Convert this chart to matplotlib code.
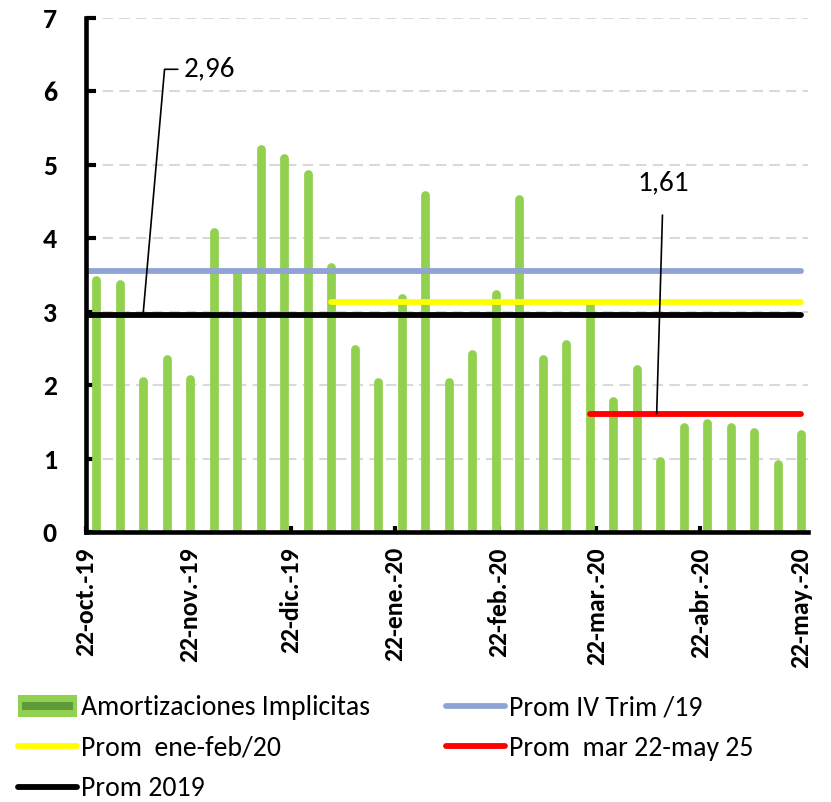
import numpy as np
import matplotlib
matplotlib.use("Agg")
import matplotlib.pyplot as plt
from matplotlib.patches import Patch, Rectangle
import datetime as dt

NARROW = ["Carlito", "Liberation Sans Narrow", "Lato", "DejaVu Sans"]

# ---- data: weekly implicit amortizations (Fridays) ----
start = dt.date(2019, 10, 25)
dates = [start + dt.timedelta(weeks=i) for i in range(31)]
amort = [3.43, 3.38, 2.06, 2.36, 2.08, 4.09, 3.52, 5.22, 5.09, 4.88,
         3.61, 2.49, 2.04, 3.18, 4.59, 2.04, 2.43, 3.24, 4.54, 2.36,
         2.56, 3.09, 1.79, 2.22, 0.97, 1.43, 1.49, 1.43, 1.36, 0.93, 1.34]

# reference averages: (label, value, start, end, colour)
prom_iv_trim = 3.56
prom_ene_feb = 3.13
prom_2019 = 2.96
prom_mar_may = 1.61
avg_lines = [
    ("Prom IV Trim /19", prom_iv_trim, dt.date(2019, 10, 22), dt.date(2020, 5, 22), "#8FA4D4"),
    ("Prom  ene-feb/20", prom_ene_feb, dt.date(2020, 1, 3), dt.date(2020, 5, 22), "#FFFF00"),
    ("Prom 2019", prom_2019, dt.date(2019, 10, 22), dt.date(2020, 5, 22), "#000000"),
    ("Prom  mar 22-may 25", prom_mar_may, dt.date(2020, 3, 20), dt.date(2020, 5, 22), "#FF0000"),
]

tick_dates = [dt.date(2019, 10, 22), dt.date(2019, 11, 22), dt.date(2019, 12, 22),
              dt.date(2020, 1, 22), dt.date(2020, 2, 22), dt.date(2020, 3, 22),
              dt.date(2020, 4, 22), dt.date(2020, 5, 22)]
tick_labels = ["22-oct.-19", "22-nov.-19", "22-dic.-19", "22-ene.-20",
               "22-feb.-20", "22-mar.-20", "22-abr.-20", "22-may.-20"]

C_BAR = "#92D050"
C_BAR_DARK = "#5E9A3A"


class BarHandler:
    """legend key: light green box with a darker stripe, like the Excel key"""
    def legend_artist(self, legend, orig_handle, fontsize, handlebox):
        x0, y0 = handlebox.xdescent, handlebox.ydescent
        w, h = handlebox.width, handlebox.height
        tr = handlebox.get_transform()
        outer = Rectangle((x0, y0 - 1), w, h + 2, facecolor=C_BAR, edgecolor="none", transform=tr)
        inner = Rectangle((x0 + 0.07 * w, y0 + 0.3 * h), 0.86 * w, 0.4 * h,
                          facecolor=C_BAR_DARK, edgecolor="none", transform=tr)
        handlebox.add_artist(outer)
        handlebox.add_artist(inner)
        return outer


fig = plt.figure(figsize=(8.31, 8.02), dpi=100)
ax = fig.add_axes([0.1035, 0.3367, 0.8685, 0.641])

# dashed grid
for yv in range(1, 8):
    ax.axhline(yv, color="#D9D9D9", lw=1.5, ls=(0, (5, 3)), zorder=0)

bars = ax.vlines(dates, 0, amort, color=C_BAR, lw=6.3, zorder=2)
bars.set_capstyle("round")

handles = {}
for lab, val, d0, d1, col in avg_lines:
    (ln,) = ax.plot([d0, d1], [val, val], color=col, lw=4.2,
                    solid_capstyle="round", zorder=3)
    handles[lab] = ln

# annotations
ax.annotate("2,96", xy=(dt.date(2019, 11, 8), prom_2019), xytext=(dt.date(2019, 11, 20), 6.3),
            fontsize=21, family=NARROW, ha="left", va="center",
            arrowprops=dict(arrowstyle="-", color="black", lw=1.2, shrinkA=2, shrinkB=0,
                            relpos=(0, 0.5),
                            connectionstyle="angle,angleA=0,angleB=85,rad=0"))
ax.annotate("1,61", xy=(dt.date(2020, 4, 9), prom_mar_may), xytext=(dt.date(2020, 4, 11), 4.75),
            fontsize=21, family=NARROW, ha="center", va="center",
            arrowprops=dict(arrowstyle="-", color="black", lw=1.2, shrinkA=12, shrinkB=0))

ax.set_ylim(0, 7)
ax.set_xlim(dt.date(2019, 10, 22), dt.date(2020, 5, 24))
ax.set_yticks(range(0, 8))
ax.set_xticks(tick_dates)
ax.set_xticklabels(tick_labels, rotation=90, fontsize=18.5, fontweight="heavy", family=NARROW)
for t in ax.get_yticklabels():
    t.set_fontsize(20); t.set_fontweight("heavy"); t.set_family(NARROW)

for s in ("top", "right"):
    ax.spines[s].set_visible(False)
for s in ("left", "bottom"):
    ax.spines[s].set_linewidth(3.3)
    ax.spines[s].set_zorder(4)
ax.tick_params(axis="y", direction="in", length=7, width=3, pad=21)
ax.tick_params(axis="x", direction="in", length=4, width=3, pad=11)

bar_key = Patch(facecolor=C_BAR)
order = ["Amortizaciones Implicitas", "Prom  ene-feb/20", "Prom 2019",
         "Prom IV Trim /19", "Prom  mar 22-may 25"]
hl = [bar_key, handles["Prom  ene-feb/20"], handles["Prom 2019"],
      handles["Prom IV Trim /19"], handles["Prom  mar 22-may 25"]]
fig.legend(hl, order, ncol=2, loc="upper left", bbox_to_anchor=(0.022, 0.133),
           frameon=False, prop={"family": NARROW, "size": 20},
           handlelength=2.1, handletextpad=0.15, columnspacing=2.75, labelspacing=0.56,
           borderaxespad=0, borderpad=0,
           handler_map={bar_key: BarHandler()})

fig.savefig("out.png", dpi=100)
